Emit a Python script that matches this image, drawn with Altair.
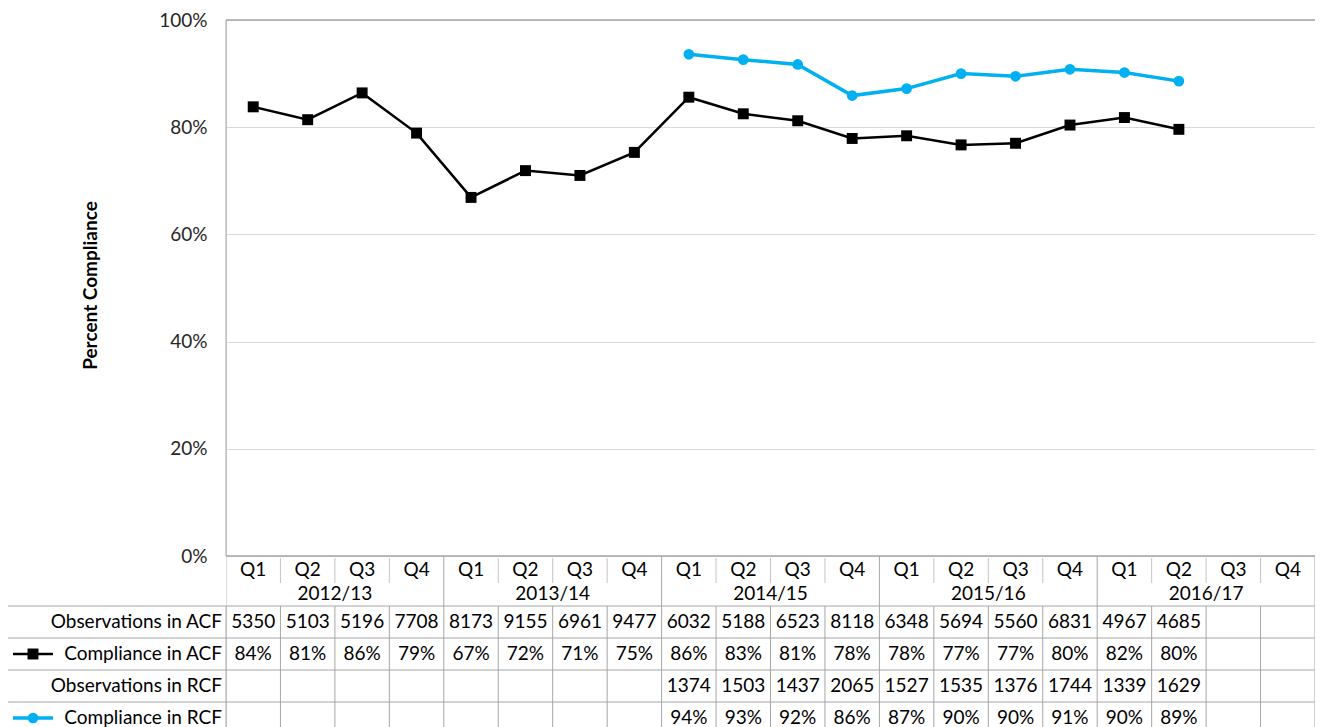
import altair as alt
import pandas as pd

years = ["2012/13", "2013/14", "2014/15", "2015/16", "2016/17"]
quarters = ["Q1", "Q2", "Q3", "Q4"]
row_labels = ["Observations in ACF", "Compliance in ACF", "Observations in RCF", "Compliance in RCF"]

obs_acf = [5350, 5103, 5196, 7708, 8173, 9155, 6961, 9477, 6032, 5188, 6523, 8118,
           6348, 5694, 5560, 6831, 4967, 4685, None, None]
acf_table = [84, 81, 86, 79, 67, 72, 71, 75, 86, 83, 81, 78, 78, 77, 77, 80, 82, 80, None, None]
obs_rcf = [None] * 8 + [1374, 1503, 1437, 2065, 1527, 1535, 1376, 1744, 1339, 1629, None, None]
rcf_table = [None] * 8 + [94, 93, 92, 86, 87, 90, 90, 91, 90, 89, None, None]

acf_line = [83.8, 81.4, 86.4, 78.9, 66.9, 71.9, 71.0, 75.3, 85.6, 82.5, 81.2, 77.9,
            78.4, 76.7, 77.0, 80.4, 81.8, 79.6, None, None]
rcf_line = [None] * 8 + [93.6, 92.6, 91.7, 85.9, 87.2, 90.0, 89.5, 90.8, 90.2, 88.6, None, None]

# ---------------- layout helpers ----------------
W = 1089
H = 707
PX = 5.36                      # pixels per percentage point
YMIN = -171 / PX
N = len(years) * len(quarters)
FONT = "Lato"
FS = 19
LBL_LEFT = -219                # left border of label column (px from plot left)


def off(p):
    """offset in px below the 0% line -> y data units"""
    return -p / PX


xs = alt.Scale(domain=[0, N], nice=False, zero=False)
ys = alt.Scale(domain=[YMIN, 100], nice=False, zero=False)

yaxis = alt.Axis(values=[0, 20, 40, 60, 80, 100], labelExpr="datum.value + '%'",
                 grid=True, gridColor="#D9D9D9", gridWidth=1, domain=False, ticks=False,
                 labelPadding=19, labelFontSize=19, labelFont=FONT, labelColor="#262626",
                 title="Percent Compliance", titleFont=FONT, titleFontSize=19,
                 titleFontWeight="bold", titleColor="#000000", titleX=-136, titleY=265,
                 titleAngle=270, titleBaseline="middle", titleAlign="center")


def X(f="x"):
    return alt.X(f"{f}:Q", scale=xs, axis=None)


def Y(f="y"):
    return alt.Y(f"{f}:Q", scale=ys, axis=yaxis)


# --- rules inside the plot coordinate system ---
vr = []
for i in range(1, N):
    if i % 4 != 0:
        vr.append({"x": i, "y": off(2), "y2": off(27), "c": "q"})
for i in range(4, N + 1, 4):
    vr.append({"x": i, "y": 0, "y2": off(50), "c": "t"})
for i in range(0, N + 1):
    vr.append({"x": i, "y": off(50), "y2": YMIN, "c": "t"})
vr.append({"x": 0, "y": 100, "y2": 0, "c": "a"})
vr_df = pd.DataFrame(vr)
color_scale = alt.Scale(domain=["q", "t", "a"], range=["#C4C4C4", "#A6A6A6", "#A6A6A6"])
vrules = alt.Chart(vr_df).mark_rule(strokeWidth=1).encode(
    x=X(), y=Y(), y2="y2:Q", color=alt.Color("c:N", scale=color_scale, legend=None))

hr_df = pd.DataFrame([
    {"x": 0, "x2": N, "y": 0, "c": "t"},
    {"x": 0, "x2": N, "y": 100, "c": "a"},
])
hrules = alt.Chart(hr_df).mark_rule(strokeWidth=1.5).encode(
    x=X(), x2="x2:Q", y=Y(), color=alt.Color("c:N", scale=color_scale, legend=None))

tl_df = pd.DataFrame({"y": [off(50 + 32 * k) for k in range(4)]})
tlines = alt.Chart(tl_df).mark_rule(strokeWidth=1, color="#A6A6A6").encode(
    x=alt.value(LBL_LEFT), x2=alt.value(W), y=Y())
lborder_df = pd.DataFrame({"y": [off(50)], "y2": [YMIN]})
lborder = alt.Chart(lborder_df).mark_rule(strokeWidth=1, color="#A6A6A6").encode(
    x=alt.value(LBL_LEFT), y=Y(), y2="y2:Q")

# --- lines ---
pos = [i + 0.5 for i in range(N)]
acf_df = pd.DataFrame({"x": pos, "y": acf_line}).dropna()
rcf_df = pd.DataFrame({"x": pos, "y": rcf_line}).dropna()
acf_l = alt.Chart(acf_df).mark_line(color="#000000", strokeWidth=2.5).encode(x=X(), y=Y())
acf_p = alt.Chart(acf_df).mark_point(shape="square", filled=True, color="#000000",
                                     size=120, opacity=1).encode(x=X(), y=Y())
rcf_l = alt.Chart(rcf_df).mark_line(color="#00B0F0", strokeWidth=3.5).encode(x=X(), y=Y())
rcf_p = alt.Chart(rcf_df).mark_point(shape="circle", filled=True, color="#00B0F0",
                                     size=115, opacity=1).encode(x=X(), y=Y())

# --- header texts ---
q_df = pd.DataFrame({"x": pos, "y": off(14), "t": [quarters[i % 4] for i in range(N)]})
y_df = pd.DataFrame({"x": [4 * k + 2 for k in range(len(years))], "y": off(38), "t": years})
hdr_df = pd.concat([q_df, y_df])
hdr = alt.Chart(hdr_df).mark_text(font=FONT, fontSize=FS, color="#000000",
                                   baseline="middle", align="center").encode(
    x=X(), y=Y(), text="t:N")

# --- table cells ---
cells = []
rows = [
    [None if v is None else str(v) for v in obs_acf],
    [None if v is None else f"{v}%" for v in acf_table],
    [None if v is None else str(v) for v in obs_rcf],
    [None if v is None else f"{v}%" for v in rcf_table],
]
for r, vals in enumerate(rows):
    for i, t in enumerate(vals):
        if t is not None:
            cells.append({"x": i + 0.5, "y": off(66 + 32 * r), "t": t})
cell_df = pd.DataFrame(cells)
cell_txt = alt.Chart(cell_df).mark_text(font=FONT, fontSize=FS, color="#000000",
                                        baseline="middle", align="center").encode(
    x=X(), y=Y(), text="t:N")

lab_df = pd.DataFrame({"y": [off(66 + 32 * r) for r in range(4)], "t": row_labels})
lab_txt = alt.Chart(lab_df).mark_text(font=FONT, fontSize=FS, color="#000000",
                                      baseline="middle", align="right").encode(
    x=alt.value(-4), y=Y(), text="t:N")

leg_acf = pd.DataFrame({"y": [off(66 + 32 * 1)]})
leg_rcf = pd.DataFrame({"y": [off(66 + 32 * 3)]})
k1 = alt.Chart(leg_acf).mark_rule(color="#000000", strokeWidth=2.5).encode(
    x=alt.value(-213), x2=alt.value(-173), y=Y())
k1p = alt.Chart(leg_acf).mark_point(shape="square", filled=True, color="#000000",
                                    size=120, opacity=1).encode(x=alt.value(-193), y=Y())
k2 = alt.Chart(leg_rcf).mark_rule(color="#00B0F0", strokeWidth=3.5).encode(
    x=alt.value(-213), x2=alt.value(-173), y=Y())
k2p = alt.Chart(leg_rcf).mark_point(shape="circle", filled=True, color="#00B0F0",
                                    size=115, opacity=1).encode(x=alt.value(-193), y=Y())

chart = alt.layer(
    vrules, hrules, tlines, lborder,
    acf_l, acf_p, rcf_l, rcf_p,
    hdr, cell_txt, lab_txt, k1, k1p, k2, k2p,
).properties(
    width=W, height=H,
    autosize=alt.AutoSizeParams(type="none"),
    padding={"left": 218, "top": 12, "right": 0, "bottom": 0},
).configure_view(stroke=None).configure(background="#FFFFFF")

chart.save("out.html", embed_options={"renderer": "svg", "actions": False})
